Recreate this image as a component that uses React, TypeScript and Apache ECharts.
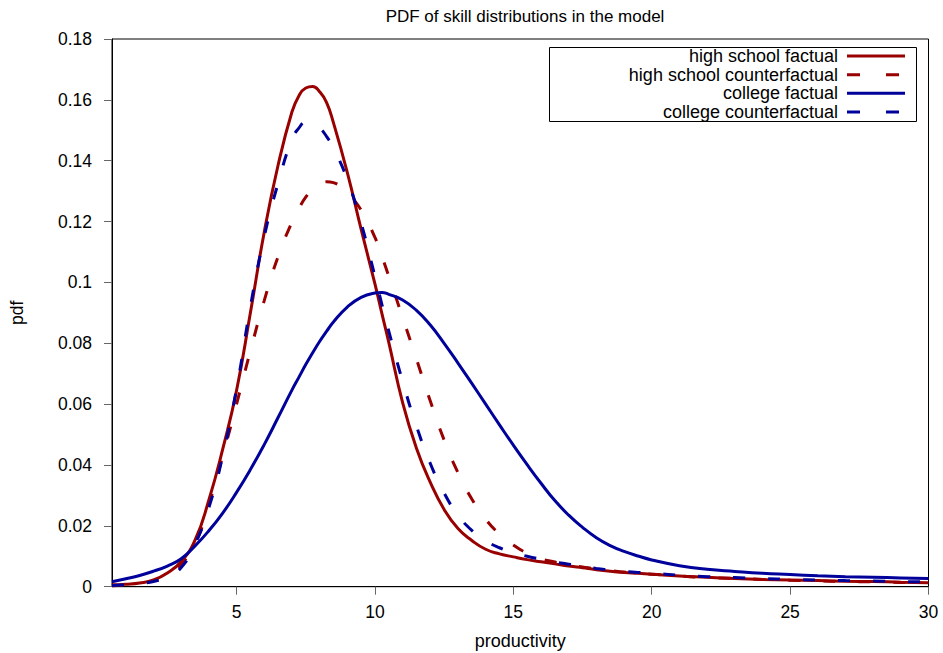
import React, { useEffect, useRef } from "react";
import * as echarts from "echarts";

const productivity = [0.5, 1, 1.5, 2, 2.5, 3, 3.5, 4, 4.5, 5, 5.5, 6, 6.5, 7, 7.25, 7.5, 7.75, 8, 8.25, 8.5, 9, 9.5, 10, 10.25, 10.5, 11, 11.5, 12, 12.5, 13, 13.5, 14, 14.5, 15, 15.5, 16, 16.5, 17, 17.5, 18, 18.5, 19, 19.5, 20, 21, 22, 23, 24, 25, 26, 27, 28, 29, 30];

const highSchoolFactual = [0.0006, 0.0008, 0.0012, 0.0022, 0.0045, 0.0083, 0.0153, 0.0285, 0.0452, 0.0645, 0.09, 0.1165, 0.1385, 0.156, 0.1613, 0.1639, 0.1644, 0.1627, 0.1592, 0.1525, 0.1362, 0.1175, 0.0995, 0.0898, 0.0803, 0.0605, 0.0455, 0.0343, 0.0254, 0.0191, 0.0152, 0.0123, 0.0108, 0.0098, 0.0089, 0.0082, 0.0075, 0.0068, 0.0062, 0.0056, 0.0051, 0.0047, 0.0044, 0.0041, 0.0035, 0.0031, 0.0027, 0.0024, 0.0022, 0.002, 0.0018, 0.0017, 0.0015, 0.0013];

const highSchoolCounterfactual = [0.0003, 0.0006, 0.001, 0.002, 0.004, 0.0075, 0.014, 0.027, 0.043, 0.06, 0.0775, 0.094, 0.1085, 0.1198, 0.1243, 0.128, 0.1307, 0.1323, 0.1331, 0.1328, 0.1293, 0.1238, 0.1148, 0.1086, 0.102, 0.0885, 0.0748, 0.061, 0.0482, 0.0375, 0.0288, 0.0222, 0.0173, 0.0137, 0.011, 0.0092, 0.0081, 0.0072, 0.0065, 0.0058, 0.0053, 0.0048, 0.0044, 0.0041, 0.0035, 0.003, 0.0027, 0.0024, 0.0021, 0.0019, 0.0017, 0.0016, 0.0014, 0.0013];

const collegeFactual = [0.0016, 0.0026, 0.0037, 0.0051, 0.0068, 0.0092, 0.0134, 0.0184, 0.0242, 0.031, 0.0385, 0.0467, 0.0556, 0.0646, 0.0688, 0.073, 0.0769, 0.0806, 0.0839, 0.087, 0.0919, 0.0951, 0.0965, 0.0967, 0.0961, 0.0942, 0.0908, 0.086, 0.08, 0.0735, 0.0668, 0.06, 0.0532, 0.0465, 0.0401, 0.034, 0.0283, 0.0235, 0.0195, 0.0161, 0.0135, 0.0116, 0.0101, 0.0088, 0.0069, 0.0057, 0.005, 0.0044, 0.004, 0.0036, 0.0033, 0.0031, 0.0029, 0.0027];

const collegeCounterfactual = [0.0004, 0.0007, 0.0011, 0.0017, 0.0033, 0.0063, 0.014, 0.026, 0.043, 0.065, 0.092, 0.115, 0.1326, 0.147, 0.1507, 0.1527, 0.1524, 0.1508, 0.148, 0.1442, 0.1338, 0.1195, 0.102, 0.0928, 0.084, 0.0675, 0.0528, 0.0405, 0.0308, 0.0236, 0.0185, 0.0151, 0.0128, 0.0112, 0.01, 0.009, 0.0081, 0.0074, 0.0067, 0.006, 0.0055, 0.005, 0.0047, 0.0044, 0.0038, 0.0033, 0.003, 0.0027, 0.0024, 0.0022, 0.002, 0.0019, 0.0017, 0.0016];

const xTicks = [5, 10, 15, 20, 25, 30];
const seriesNames = ["high school factual", "high school counterfactual", "college factual", "college counterfactual"];

const RED = "#990000";
const BLUE = "#00009b";
const FONT = "'Liberation Sans', Arial, sans-serif";

export default function App() {
  const ref = useRef<HTMLDivElement>(null);

  useEffect(() => {
    if (!ref.current) return;
    const chart = echarts.init(ref.current, undefined, { renderer: "svg" });
    const pairs = (ys: number[]) => productivity.map((x, i) => [x, ys[i]]);
    const dash = [12, 23];
    const styles = [
      { color: RED, type: "solid" as any },
      { color: RED, type: dash as any },
      { color: BLUE, type: "solid" as any },
      { color: BLUE, type: dash as any },
    ];
    const datasets = [highSchoolFactual, highSchoolCounterfactual, collegeFactual, collegeCounterfactual];

    const legendRight = 838;
    const rowY = [56, 74.7, 93.3, 112];
    const legendGraphics: any[] = [
      {
        type: "rect",
        shape: { x: 549.5, y: 47.5, width: 367, height: 74 },
        style: { fill: "#fff", stroke: "#000", lineWidth: 1 },
        z: 10,
      },
    ];
    seriesNames.forEach((n, i) => {
      legendGraphics.push({
        type: "text",
        x: legendRight,
        y: rowY[i],
        style: {
          text: n,
          fill: "#000",
          font: `18px ${FONT}`,
          textAlign: "right",
          textVerticalAlign: "middle",
        },
        z: 11,
      });
      legendGraphics.push({
        type: "line",
        shape: { x1: 847, y1: rowY[i], x2: 905, y2: rowY[i] },
        style: {
          stroke: styles[i].color,
          lineWidth: 3,
          lineDash: styles[i].type === "solid" ? null : [13, 26],
        },
        z: 11,
      });
    });

    chart.setOption({
      animation: false,
      backgroundColor: "#fff",
      title: {
        text: "PDF of skill distributions in the model",
        left: 520,
        top: 3,
        textAlign: "center",
        textStyle: { fontFamily: FONT, fontSize: 17, fontWeight: "normal", color: "#000" },
      },
      grid: {
        left: 112,
        top: 39,
        right: 14.5,
        bottom: 66.3,
        containLabel: false,
        outerBoundsMode: "none",
        show: true,
        borderColor: "#000",
        borderWidth: 1,
        backgroundColor: "transparent",
      },
      xAxis: {
        type: "value",
        min: 0.5,
        max: 30,
        name: "productivity",
        nameLocation: "middle",
        nameGap: 45,
        nameTextStyle: { fontFamily: FONT, fontSize: 18, color: "#000" },
        axisLine: { show: true, lineStyle: { color: "#000", width: 1 } },
        axisTick: { show: true, length: 8, customValues: xTicks, lineStyle: { color: "#666" } },
        axisLabel: { customValues: xTicks, margin: 16, fontFamily: FONT, fontSize: 17.5, color: "#000" },
        splitLine: { show: false },
      },
      yAxis: {
        type: "value",
        min: 0,
        max: 0.18,
        interval: 0.02,
        name: "pdf",
        nameLocation: "middle",
        nameGap: 86,
        nameRotate: 90,
        nameTextStyle: { fontFamily: FONT, fontSize: 17.5, color: "#000" },
        axisLine: { show: true, lineStyle: { color: "#000", width: 1 } },
        axisTick: { show: true, length: 8, lineStyle: { color: "#666" } },
        axisLabel: {
          margin: 20,
          fontFamily: FONT,
          fontSize: 17.5,
          color: "#000",
          formatter: (v: number) => String(parseFloat(v.toFixed(2))),
        },
        splitLine: { show: false },
      },
      series: datasets.map((d, i) => ({
        name: seriesNames[i],
        type: "line",
        data: pairs(d),
        showSymbol: false,
        smooth: 0.5,
        lineStyle: { color: styles[i].color, width: 3, type: styles[i].type, cap: "butt" },
        itemStyle: { color: styles[i].color },
        z: 2 + i,
      })),
      graphic: legendGraphics,
    });
    return () => chart.dispose();
  }, []);

  return (
    <div
      ref={ref}
      style={{ position: "fixed", left: 0, top: 0, width: 943, height: 653, background: "#fff" }}
    />
  );
}
